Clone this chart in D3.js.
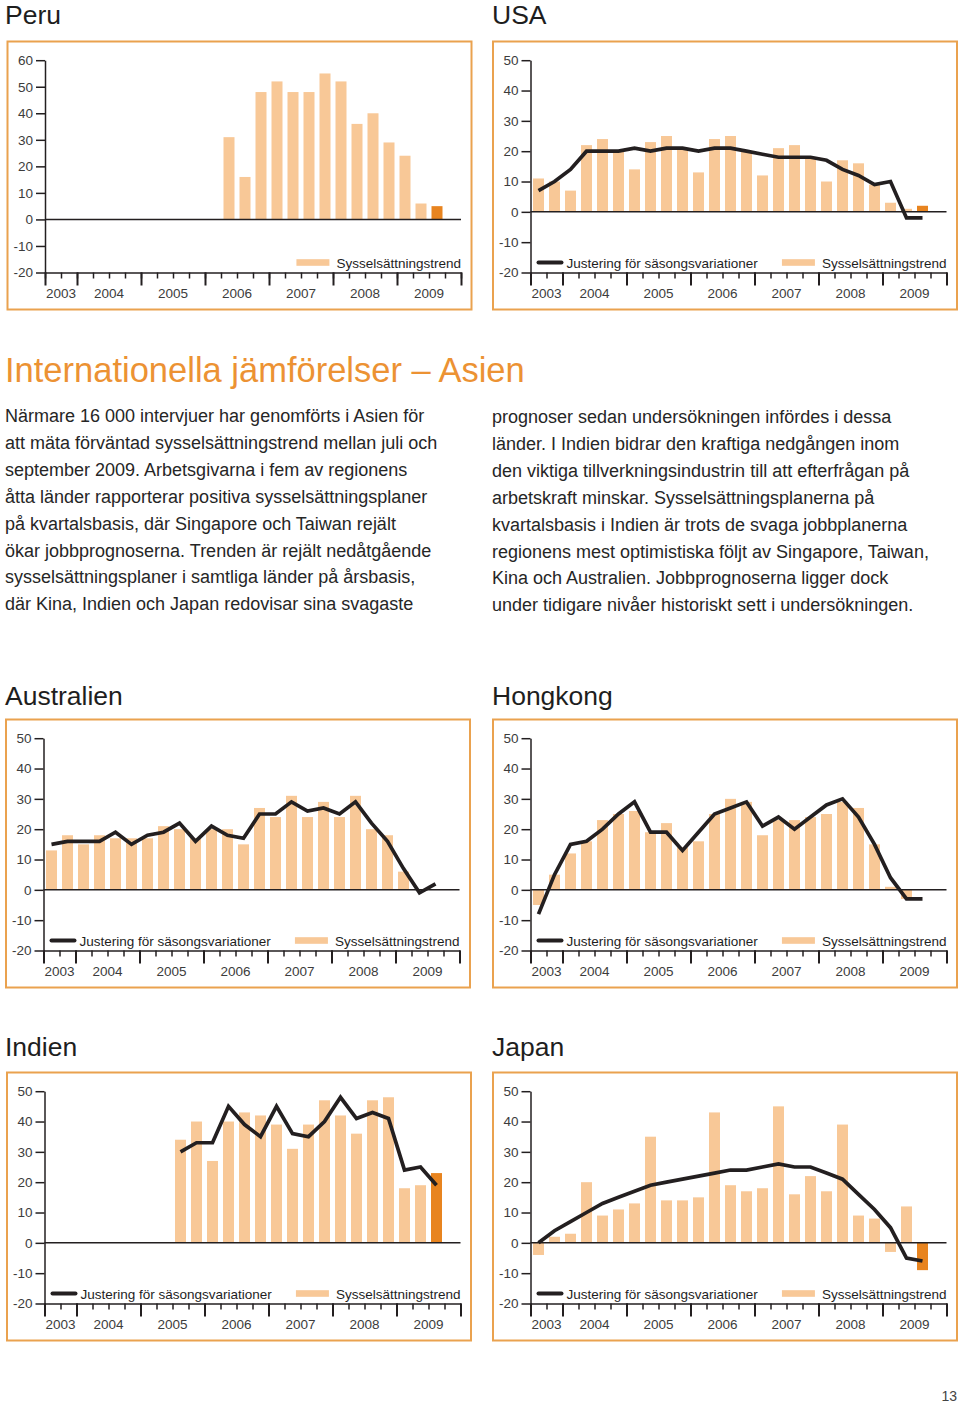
<!DOCTYPE html>
<html><head><meta charset="utf-8">
<script src="https://cdn.jsdelivr.net/npm/d3@7/dist/d3.min.js"></script>
<style>
html,body{margin:0;padding:0;background:#fff;}
svg{display:block;font-family:"Liberation Sans",Arial,Helvetica,sans-serif;}
</style></head>
<body>
<svg id="page" width="960" height="1409"></svg>
<script>
// ---------- DATA ----------
const years = ["2003","2004","2005","2006","2007","2008","2009"];
const yearStarts = [0,2,6,10,14,18,22,26]; // quarter-slot boundaries
const N = null;

const peruTrend = [N,N,N,N,N,N,N,N,N,N,N,31,16,48,52,48,48,55,52,36,40,29,24,6,5];

const usaTrend = [11,10,7,22,24,20,14,23,25,21,13,24,25,20,12,21,22,18,10,17,16,9,3,1,2];
const usaAdj   = [7,10,14,20,20,20,21,20,21,21,20,21,21,20,19,18,18,18,17,14,12,9,10,-2,-2];

const ausTrend = [13,18,15,18,17,17,17,21,20,17,20,20,15,27,24,31,24,29,24,31,20,18,6,N,N];
const ausAdj   = [15,16,16,16,19,15,18,19,22,16,21,18,17,25,25,29,26,27,25,29,22,16,7,-1,2];

const hkTrend = [-5,5,12,16,23,25,26,19,22,14,16,25,30,29,18,23,23,24,25,29,27,15,1,-3,N];
const hkAdj   = [-8,5,15,16,20,25,29,19,19,13,19,25,27,29,21,24,20,24,28,30,24,15,4,-3,-3];

const indTrend = [N,N,N,N,N,N,N,N,34,40,27,40,43,42,39,31,39,47,42,36,47,48,18,19,23];
const indAdj   = [N,N,N,N,N,N,N,N,30,33,33,45,39,35,45,36,35,40,48,41,43,41,24,25,19];

const jpTrend = [-4,2,3,20,9,11,13,35,14,14,15,43,19,17,18,45,16,22,17,39,9,8,-3,12,-9];
const jpAdj   = [0,4,7,10,13,15,17,19,20,21,22,23,24,24,25,26,25,25,23,21,16,11,5,-5,-6];

const yMaxPeru = 60, yMaxStd = 50, yMin = -20;

const legendLine = "Justering för säsongsvariationer";
const legendBar = "Sysselsättningstrend";

const heading = "Internationella jämförelser – Asien";
const leftText = [
 "Närmare 16 000 intervjuer har genomförts i Asien för",
 "att mäta förväntad sysselsättningstrend mellan juli och",
 "september 2009. Arbetsgivarna i fem av regionens",
 "åtta länder rapporterar positiva sysselsättningsplaner",
 "på kvartalsbasis, där Singapore och Taiwan rejält",
 "ökar jobbprognoserna. Trenden är rejält nedåtgående",
 "sysselsättningsplaner i samtliga länder på årsbasis,",
 "där Kina, Indien och Japan redovisar sina svagaste"
];
const rightText = [
 "prognoser sedan undersökningen infördes i dessa",
 "länder. I Indien bidrar den kraftiga nedgången inom",
 "den viktiga tillverkningsindustrin till att efterfrågan på",
 "arbetskraft minskar. Sysselsättningsplanerna på",
 "kvartalsbasis i Indien är trots de svaga jobbplanerna",
 "regionens mest optimistiska följt av Singapore, Taiwan,",
 "Kina och Australien. Jobbprognoserna ligger dock",
 "under tidigare nivåer historiskt sett i undersökningen."
];

// ---------- STYLE ----------
const C = {
  border:"#EAA24F", bar:"#F8C897", barLast:"#E8841F", line:"#231f20",
  axis:"#231f20", tickText:"#3c3c3c", title:"#1e1e1e", heading:"#EC9233", text:"#262626"
};

const svg = d3.select("#page");

const panels = [
  {title:"Peru", tx:5, ty:24, bx:7.5, by:41.5, ymax:yMaxPeru, trend:peruTrend, adj:null},
  {title:"USA", tx:492, ty:24, bx:493, by:41.5, ymax:yMaxStd, trend:usaTrend, adj:usaAdj},
  {title:"Australien", tx:5, ty:705, bx:6, by:719.5, ymax:yMaxStd, trend:ausTrend, adj:ausAdj},
  {title:"Hongkong", tx:492, ty:705, bx:493, by:719.5, ymax:yMaxStd, trend:hkTrend, adj:hkAdj},
  {title:"Indien", tx:5, ty:1056, bx:7, by:1072.5, ymax:yMaxStd, trend:indTrend, adj:indAdj},
  {title:"Japan", tx:492, ty:1056, bx:493, by:1072.5, ymax:yMaxStd, trend:jpTrend, adj:jpAdj}
];

const BW = 464, BH = 268;

panels.forEach(p => {
  svg.append("text").attr("x",p.tx).attr("y",p.ty).attr("font-size",26.5)
    .attr("fill",C.title).text(p.title);

  svg.append("rect").attr("x",p.bx).attr("y",p.by).attr("width",BW).attr("height",BH)
    .attr("fill","none").attr("stroke",C.border).attr("stroke-width",2);

  const x0 = p.bx + 37.5, x1 = p.bx + BW - 10.5;
  const yTop = p.by + 18.7, yBot = p.by + BH - 37;
  const g = svg.append("g");

  const x = d3.scaleLinear().domain([0,26]).range([x0,x1]);
  const y = d3.scaleLinear().domain([yMin,p.ymax]).range([yBot,yTop]);

  // bars
  const last = p.trend.length - 1;
  const bars = p.trend.map((v,i)=>({i,v})).filter(d=>d.v!==null);
  g.selectAll("rect.bar").data(bars).join("rect").attr("class","bar")
    .attr("x",d=>x(d.i+0.5)-5.5).attr("width",11)
    .attr("y",d=>y(Math.max(0,d.v))).attr("height",d=>Math.abs(y(d.v)-y(0)))
    .attr("fill",d=>d.i===last?C.barLast:C.bar);

  // zero line
  g.append("line").attr("x1",x0).attr("x2",x1).attr("y1",y(0)).attr("y2",y(0))
    .attr("stroke",C.axis).attr("stroke-width",1.5);

  // line
  if (p.adj) {
    const pts = p.adj.map((v,i)=>({i,v})).filter(d=>d.v!==null);
    g.append("path").datum(pts)
      .attr("d", d3.line().x(d=>x(d.i+0.5)).y(d=>y(d.v)))
      .attr("fill","none").attr("stroke",C.line).attr("stroke-width",3.7)
      .attr("stroke-linejoin","miter").attr("stroke-linecap","butt");
  }

  // y axis
  const ya = g.append("g").attr("transform",`translate(${x0},0)`)
    .call(d3.axisLeft(y).tickValues(d3.range(yMin,p.ymax+1,10)).tickFormat(d=>String(d))
      .tickSize(9).tickSizeOuter(0).tickPadding(3));
  ya.select(".domain").attr("stroke",C.axis).attr("stroke-width",1.5);
  ya.selectAll(".tick line").attr("stroke",C.axis).attr("stroke-width",1.5);
  ya.selectAll(".tick text").attr("font-size",13.5).attr("fill",C.tickText)
    .attr("font-family","'Liberation Sans',Arial,sans-serif");

  // bottom axis minor
  const xa = g.append("g").attr("transform",`translate(0,${yBot})`)
    .call(d3.axisBottom(x).tickValues(d3.range(0,27)).tickSize(6).tickSizeOuter(0).tickFormat(""));
  xa.select(".domain").attr("stroke",C.axis).attr("stroke-width",1.5);
  xa.selectAll(".tick line").attr("stroke",C.axis).attr("stroke-width",1.5);
  // major
  const xm = g.append("g").attr("transform",`translate(0,${yBot})`)
    .call(d3.axisBottom(x).tickValues(yearStarts).tickSize(13).tickSizeOuter(0).tickFormat(""));
  xm.select(".domain").remove();
  xm.selectAll(".tick line").attr("stroke",C.axis).attr("stroke-width",2);

  // year labels
  g.selectAll("text.yr").data(years).join("text").attr("class","yr")
    .attr("x",(d,i)=>x((yearStarts[i]+yearStarts[i+1])/2)).attr("y",yBot+25.5)
    .attr("text-anchor","middle").attr("font-size",13.5).attr("fill",C.tickText).text(d=>d);

  // legend
  const ly = yBot - 10;
  const tb = g.append("text").attr("x",x1).attr("y",ly+5).attr("text-anchor","end")
    .attr("font-size",13.5).attr("fill",C.title).text(legendBar);
  const tw = tb.node().getComputedTextLength();
  g.append("rect").attr("x",x1-tw-40).attr("y",ly-3.3).attr("width",33).attr("height",6.6).attr("fill",C.bar);
  if (p.adj) {
    g.append("line").attr("x1",x0+8).attr("x2",x0+31).attr("y1",ly).attr("y2",ly)
      .attr("stroke",C.line).attr("stroke-width",4).attr("stroke-linecap","round");
    g.append("text").attr("x",x0+36).attr("y",ly+5).attr("font-size",13.5).attr("fill",C.title).text(legendLine);
  }
});

// heading & body
svg.append("text").attr("x",5).attr("y",382).attr("font-size",34.5).attr("fill",C.heading).text(heading);
const lh = 26.9;
svg.selectAll("text.lt").data(leftText).join("text").attr("class","lt")
  .attr("x",5).attr("y",(d,i)=>422+i*lh).attr("font-size",18).attr("fill",C.text).text(d=>d);
svg.selectAll("text.rt").data(rightText).join("text").attr("class","rt")
  .attr("x",492).attr("y",(d,i)=>423+i*lh).attr("font-size",18).attr("fill",C.text).text(d=>d);

svg.append("text").attr("x",957).attr("y",1401).attr("text-anchor","end").attr("font-size",14)
  .attr("fill","#444").text("13");
</script>
</body></html>
